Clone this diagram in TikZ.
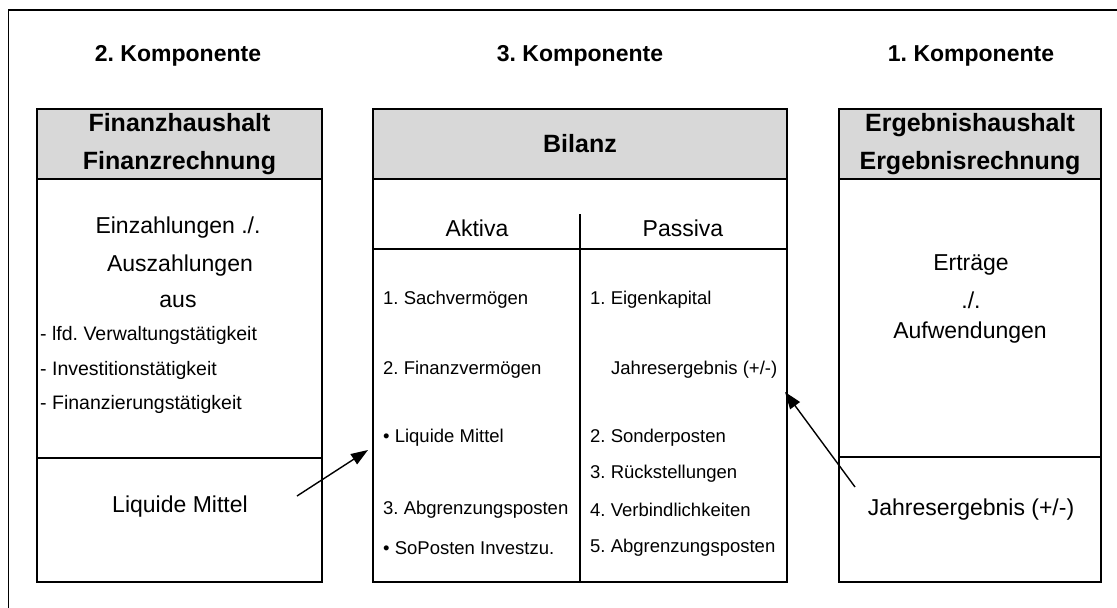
\documentclass[tikz,border=0pt]{standalone}
\usepackage{fontspec}
\setmainfont{Liberation Sans}
\usepackage{tikz}
\usetikzlibrary{positioning, arrows.meta}
\definecolor{headGray}{HTML}{D8D8D8}
\frenchspacing

\begin{document}
\begin{tikzpicture}[x=1pt, y=-1pt,
    every node/.style={inner sep=0pt},
    frame/.style={draw, line width=1.6pt, fill=white},
    headbox/.style={draw, line width=1.6pt, fill=headGray, minimum height=70pt, anchor=north},
    headtxt/.style={font=\bfseries\fontsize{25}{38}\selectfont, align=center},
    komp/.style={font=\bfseries\fontsize{23}{28}\selectfont, anchor=base},
    big/.style={font=\fontsize{23}{28}\selectfont},
    item/.style={font=\fontsize{18.5}{22}\selectfont, anchor=west},
    arr/.style={-{Triangle[length=17pt, width=12pt]}, line width=1.4pt}]
  \useasboundingbox (0,0) rectangle (1117,608);
  % Outer frame (top and left edge)
  \coordinate (frameTL) at (8,10);
  \coordinate (frameTR) at (1117,10);
  \coordinate (frameBL) at (8,608);
  \draw[line width=2.2pt] (frameTR) -- (frameTL);
  \draw[line width=1pt] (frameTL) -- (frameBL);
  % Component headings
  \node[komp] (k2) at (178,61) {2. Komponente};
  \node[komp] (k3) at (580,61) {3. Komponente};
  \node[komp] (k1) at (971,61) {1. Komponente};
  % Boxes
  \node[frame, minimum width=285pt, minimum height=473pt] (fin) at (179.5,345.5) {};
  \node[frame, minimum width=414pt, minimum height=473pt] (bil) at (580,345.5) {};
  \node[frame, minimum width=262pt, minimum height=473pt] (erg) at (970,345.5) {};
  \node[headbox, minimum width=285pt] (finH) at (fin.north) {};
  \node[headbox, minimum width=414pt] (bilH) at (bil.north) {};
  \node[headbox, minimum width=262pt] (ergH) at (erg.north) {};
  \node[headtxt] at (finH) {Finanzhaushalt\\Finanzrechnung};
  \node[headtxt] at (bilH) {Bilanz};
  \node[headtxt] at (ergH) {Ergebnishaushalt\\Ergebnisrechnung};
  % Dividers
  \draw[line width=1.4pt] (fin.west |- 0,458) -- (fin.east |- 0,458);
  \draw[line width=1.4pt] (erg.west |- 0,457) -- (erg.east |- 0,457);
  \draw[line width=1.4pt] (bil.west |- 0,249) -- (bil.east |- 0,249);
  \draw[line width=1.2pt] (580,214) -- (bil.south);
  % Finanzhaushalt
  \node[big] (einz) at (178,228) {Einzahlungen ./.};
  \node[big] (ausz) at (180,266) {Auszahlungen};
  \node[big] (aus) at (178,301) {aus};
  \node[item, font=\fontsize{19.5}{22}\selectfont] (lfd) at (40,335) {- lfd. Verwaltungstätigkeit};
  \node[item, font=\fontsize{19.5}{22}\selectfont] (inv) at (40,370) {- Investitionstätigkeit};
  \node[item, font=\fontsize{19.5}{22}\selectfont] (finz) at (40,404) {- Finanzierungstätigkeit};
  \node[big] (lmFin) at (180,507) {Liquide Mittel};
  % Bilanz
  \node[big] (aktiva) at (477,228) {Aktiva};
  \node[big] (passiva) at (683,228) {Passiva};
  \node[item] (sach) at (383,300) {1. Sachvermögen};
  \node[item] (finv) at (383,370) {2. Finanzvermögen};
  \node[item] (lmBil) at (383,438) {\textbullet\ Liquide Mittel};
  \node[item] (abgrA) at (383,510) {3. Abgrenzungsposten};
  \node[item] (sopo) at (383,548) {\textbullet\ SoPosten Investzu.};
  \node[item] (eigen) at (590,300) {1. Eigenkapital};
  \node[item] (jeBil) at (611,370) {Jahresergebnis (+/-)};
  \node[item] (sonder) at (590,438) {2. Sonderposten};
  \node[item] (rueck) at (590,474) {3. Rückstellungen};
  \node[item] (verb) at (590,510) {4. Verbindlichkeiten};
  \node[item] (abgrP) at (590,548) {5. Abgrenzungsposten};
  % Ergebnishaushalt
  \node[big] (ertr) at (971,265) {Erträge};
  \node[big] (minus) at (971,300) {./.};
  \node[big] (aufw) at (970,333) {Aufwendungen};
  \node[big] (jeErg) at (971,510) {Jahresergebnis (+/-)};
  % Arrows
  \coordinate (lmFrom) at (297,496);
  \coordinate (lmTo) at (368,450);
  \coordinate (jeFrom) at (855,487);
  \coordinate (jeTo) at (785,392);
  \draw[arr] (lmFrom) -- (lmTo);
  \draw[arr] (jeFrom) -- (jeTo);
\end{tikzpicture}
\end{document}
